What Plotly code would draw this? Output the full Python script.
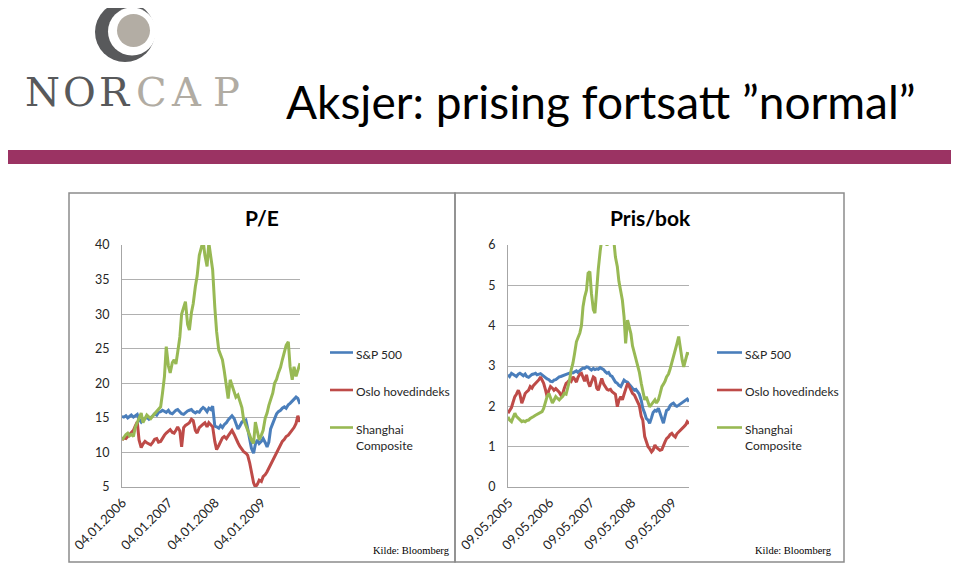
import pandas as pd
import plotly.graph_objects as go

W, H = 959, 564
PAGE_OFFSET = 8  # body margin of the html page

SERIES = ["S&P 500", "Oslo hovedindeks", "Shanghai<br>Composite"]
COLORS = ["#4a7ebb", "#be4b48", "#98b954"]

# P/E, semi-monthly from Jan 2006
PE_DATES = pd.date_range("2006-01-01", periods=93, freq="SMS")
PE_TICKS = ["2006-01-04", "2007-01-04", "2008-01-04", "2009-01-04"]
PE_TICKTEXT = ["04.01.2006", "04.01.2007", "04.01.2008", "04.01.2009"]

PE_SP = [15.2, 15.1, 15.3, 15.0, 15.2, 15.4, 15.1, 15.3, 15.5, 14.8,
         14.4, 14.7, 14.9, 15.1, 14.8, 15.0, 15.3, 15.6, 15.4, 15.8,
         15.9, 16.1, 16.0, 15.8, 16.1, 15.7, 15.6, 15.9, 16.1, 16.2,
         15.8, 15.6, 15.5, 15.8, 16.0, 16.1, 16.2, 15.9, 15.7, 15.9,
         15.8, 16.2, 16.5, 16.3, 15.9, 16.4, 16.2, 16.7, 13.8, 13.7,
         13.5, 13.9, 13.6, 14.0, 14.3, 14.7, 15.0, 15.3, 14.9, 14.2,
         13.4, 13.8, 14.4, 14.6, 14.7, 13.5, 11.8, 10.6, 9.9, 11.2,
         11.8, 11.3, 11.6, 12.0, 11.4, 10.8, 11.5, 13.4, 14.2, 15.0,
         15.6, 15.9, 16.1, 16.4, 16.6, 16.4, 16.9, 17.1, 17.4, 17.6,
         18.0, 17.8, 17.0]
PE_OSLO = [11.8, 12.1, 12.0, 12.3, 12.6, 12.9, 13.2, 13.8, 14.4, 11.8,
           10.7, 11.2, 11.6, 11.4, 11.2, 11.1, 11.5, 11.9, 12.0, 11.5,
           11.6, 12.1, 12.5, 12.8, 13.1, 13.3, 12.9, 12.8, 13.2, 13.7,
           13.1, 10.8, 13.6, 13.9, 14.1, 14.3, 14.8, 14.6, 13.2, 12.8,
           13.6, 13.9, 14.1, 14.3, 13.7, 14.3, 14.0, 13.7, 11.6, 10.4,
           11.0, 11.5, 12.1, 12.3, 12.0, 12.4, 12.8, 13.2, 12.6, 11.9,
           11.4, 10.9, 10.4, 10.1, 9.9, 9.6, 8.5, 7.2, 5.6, 5.0,
           5.4, 6.0, 5.8, 6.5, 6.8, 7.2, 7.7, 8.1, 8.8, 9.4,
           9.9, 10.4, 10.9, 11.6, 11.9, 12.3, 12.5, 12.8, 13.2, 13.6,
           14.2, 15.3, 14.4]
PE_SHANGHAI = [11.8, 12.2, 12.6, 12.8, 12.4, 12.6, 12.3, 13.6, 14.4, 15.0,
               15.7, 14.3, 14.9, 15.4, 15.1, 14.9, 15.3, 15.6, 15.9, 16.1,
               16.6, 18.5, 21.0, 25.3, 22.5, 21.5, 23.0, 23.4, 22.8, 24.5,
               26.7, 30.0, 31.2, 31.8, 28.5, 27.7, 30.2, 31.5, 34.0, 35.5,
               38.5, 39.5, 40.6, 38.5, 36.9, 40.3, 38.0, 36.4, 31.0, 27.5,
               24.8, 24.0, 23.4, 21.8, 19.5, 17.8, 20.5, 19.8, 19.0, 18.0,
               18.3, 17.6, 16.5, 14.7, 14.0, 13.2, 12.5, 11.8, 11.3, 14.4,
               12.8, 11.8, 12.5, 13.2, 15.0, 15.7, 16.8, 17.6, 18.6, 20.0,
               20.6, 21.5, 22.3, 23.4, 24.4, 25.5, 26.0, 22.4, 20.5, 22.4,
               21.0, 22.0, 22.9]

# Pris/bok, semi-monthly from May 2005
PB_DATES = pd.date_range("2005-05-01", periods=107, freq="SMS")
PB_TICKS = ["2005-05-09", "2006-05-09", "2007-05-09", "2008-05-09", "2009-05-09"]
PB_TICKTEXT = ["09.05.2005", "09.05.2006", "09.05.2007", "09.05.2008", "09.05.2009"]

PB_SP = [2.78, 2.74, 2.82, 2.80, 2.76, 2.74, 2.80, 2.82, 2.79, 2.76,
         2.80, 2.74, 2.72, 2.76, 2.79, 2.80, 2.82, 2.78, 2.80, 2.81,
         2.78, 2.75, 2.70, 2.68, 2.66, 2.62, 2.61, 2.65, 2.66, 2.70,
         2.73, 2.74, 2.76, 2.78, 2.79, 2.80, 2.82, 2.84, 2.83, 2.86,
         2.88, 2.84, 2.90, 2.92, 2.95, 2.94, 2.98, 2.97, 2.93, 2.90,
         2.94, 2.91, 2.93, 2.92, 2.96, 2.94, 2.91, 2.86, 2.82, 2.84,
         2.76, 2.74, 2.68, 2.60, 2.57, 2.52, 2.49, 2.58, 2.65, 2.62,
         2.60, 2.55, 2.48, 2.45, 2.40, 2.42, 2.36, 2.30, 2.15, 1.95,
         1.83, 1.70, 1.66, 1.58, 1.72, 1.85, 1.90, 1.88, 1.95, 1.85,
         1.70, 1.58, 1.75, 1.90, 1.93, 2.02, 2.06, 2.08, 2.02, 2.00,
         2.03, 2.06, 2.10, 2.12, 2.16, 2.18, 2.12]
PB_OSLO = [1.83, 1.90, 1.97, 2.10, 2.24, 2.30, 2.40, 2.30, 2.08, 2.18,
           2.32, 2.36, 2.40, 2.49, 2.45, 2.52, 2.57, 2.60, 2.66, 2.73,
           2.65, 2.57, 2.40, 2.24, 2.40, 2.49, 2.45, 2.40, 2.44, 2.40,
           2.35, 2.28, 2.32, 2.45, 2.57, 2.60, 2.65, 2.62, 2.73, 2.68,
           2.60, 2.72, 2.80, 2.82, 2.70, 2.62, 2.78, 2.60, 2.49, 2.62,
           2.73, 2.70, 2.45, 2.40, 2.60, 2.69, 2.55, 2.48, 2.42, 2.40,
           2.42, 2.36, 2.32, 2.30, 1.99, 2.15, 2.24, 2.16, 2.30, 2.45,
           2.57, 2.50, 2.40, 2.32, 2.28, 2.20, 2.08, 2.02, 1.75, 1.66,
           1.25, 1.10, 1.00, 0.95, 0.87, 0.92, 1.04, 0.98, 0.95, 0.91,
           0.93, 1.04, 1.12, 1.20, 1.24, 1.30, 1.33, 1.28, 1.24, 1.32,
           1.37, 1.42, 1.45, 1.49, 1.54, 1.62, 1.57]
PB_SHANGHAI = [1.74, 1.66, 1.62, 1.72, 1.83, 1.75, 1.70, 1.66, 1.62, 1.64,
               1.62, 1.65, 1.66, 1.70, 1.72, 1.75, 1.78, 1.80, 1.82, 1.85,
               1.87, 1.95, 2.16, 2.25, 2.32, 2.20, 2.08, 2.15, 2.24, 2.20,
               2.16, 2.20, 2.25, 2.32, 2.30, 2.45, 2.65, 2.90, 3.07, 3.30,
               3.60, 3.70, 3.82, 4.00, 4.47, 4.70, 4.88, 5.30, 5.34, 4.80,
               4.40, 4.31, 5.00, 5.40, 5.85, 6.20, 6.50, 6.30, 5.98, 6.20,
               6.60, 6.40, 6.10, 5.70, 5.46, 5.10, 4.88, 4.63, 4.22, 3.56,
               4.14, 3.95, 3.80, 3.50, 3.31, 3.15, 3.00, 2.85, 2.57, 2.40,
               2.16, 2.24, 2.10, 1.99, 2.05, 2.10, 2.16, 2.08, 2.16, 2.30,
               2.49, 2.55, 2.62, 2.73, 2.80, 2.92, 3.07, 3.25, 3.40, 3.55,
               3.73, 3.40, 3.15, 2.98, 3.20, 3.31, 3.30]


def px(x):
    return (x - PAGE_OFFSET) / W


def py(y):
    return 1 - (y - PAGE_OFFSET) / H


FONT = "Lato, 'Open Sans', sans-serif"
fig = go.Figure()

for vals, c in zip([PE_SP, PE_OSLO, PE_SHANGHAI], COLORS):
    fig.add_trace(go.Scatter(x=PE_DATES, y=vals, mode="lines", xaxis="x", yaxis="y",
                             line=dict(color=c, width=3), showlegend=False))
for vals, c in zip([PB_SP, PB_OSLO, PB_SHANGHAI], COLORS):
    fig.add_trace(go.Scatter(x=PB_DATES, y=vals, mode="lines", xaxis="x2", yaxis="y2",
                             line=dict(color=c, width=3), showlegend=False))

xcommon = dict(type="date", showgrid=False, showline=True, linecolor="#a6a6a6",
               linewidth=1, ticks="", tickangle=-45, zeroline=False, automargin=False,
               ticklabelstandoff=2,
               tickfont=dict(family=FONT, size=13, color="#262626"))
ycommon = dict(showgrid=True, gridcolor="#b0b0b0", gridwidth=1, showline=True,
               linecolor="#a6a6a6", linewidth=1, ticks="", zeroline=False, automargin=False,
               ticklabelstandoff=9,
               tickfont=dict(family=FONT, size=12.5, color="#262626"))

fig.update_layout(
    width=W, height=H, margin=dict(l=0, r=0, t=0, b=0),
    paper_bgcolor="white", plot_bgcolor="white",
    xaxis=dict(xcommon, domain=[px(122), px(300)], anchor="y",
               range=[PE_DATES[0], PE_DATES[-1]], tickvals=PE_TICKS, ticktext=PE_TICKTEXT),
    yaxis=dict(ycommon, domain=[py(487), py(245)], anchor="x", range=[5, 40], dtick=5),
    xaxis2=dict(xcommon, domain=[px(508), px(689)], anchor="y2",
                range=[PB_DATES[0], PB_DATES[-1]], tickvals=PB_TICKS, ticktext=PB_TICKTEXT),
    yaxis2=dict(ycommon, domain=[py(487), py(245)], anchor="x2", range=[0, 6], dtick=1),
)

shapes = []
# purple band
shapes.append(dict(type="rect", xref="paper", yref="paper", x0=px(0), x1=px(955),
                   y0=py(164), y1=py(150), fillcolor="#9b3363", line_width=0, layer="below"))
# chart panels
for x0, x1 in [(69, 455), (455, 844)]:
    shapes.append(dict(type="rect", xref="paper", yref="paper", x0=px(x0), x1=px(x1),
                       y0=py(562), y1=py(193), line=dict(color="#8c8c8c", width=1.5),
                       fillcolor="rgba(0,0,0,0)", layer="below"))
# logo crescent and disc
def circ(cx, cy, r, color):
    return dict(type="circle", xref="paper", yref="paper", x0=px(cx - r), x1=px(cx + r),
                y0=py(cy + r), y1=py(cy - r), fillcolor=color, line_width=0, layer="above")
shapes.append(circ(125, 32, 30, "#58595b"))
shapes.append(circ(132, 31.5, 24, "white"))
shapes.append(circ(133.5, 30.5, 16.5, "#b3ada4"))

annotations = []
# legends
for lx0, lx1 in [(330, 353), (717, 742)]:
    for name, c, ly in zip(SERIES, COLORS, [352.5, 390, 427.5]):
        shapes.append(dict(type="line", xref="paper", yref="paper", x0=px(lx0), x1=px(lx1),
                           y0=py(ly), y1=py(ly), line=dict(color=c, width=2.6)))
        annotations.append(dict(text=name, x=px(lx1 + 1), y=py(ly - 8), xref="paper", yref="paper",
                                xanchor="left", yanchor="top", showarrow=False, align="left",
                                font=dict(family=FONT, size=12, color="#262626")))

# NORCAP letters
for ch, cx, col in zip("NORCAP", [42, 79, 115, 151, 186, 226],
                       ["#58595b"] * 3 + ["#b1aca3"] * 3):
    annotations.append(dict(text=ch, x=px(cx), y=py(92), xref="paper", yref="paper",
                            xanchor="center", yanchor="middle", showarrow=False,
                            font=dict(family="DejaVu Serif, serif", size=40, color=col)))

annotations += [
    dict(text="Aksjer: prising fortsatt \u201dnormal\u201d", x=px(284), y=py(102),
         xanchor="left", yanchor="middle", font=dict(family=FONT, size=46, color="black")),
    dict(text="<b>P/E</b>", x=px(262), y=py(217), xanchor="center", yanchor="middle",
         font=dict(family=FONT, size=21, color="black")),
    dict(text="<b>Pris/bok</b>", x=px(650), y=py(217), xanchor="center", yanchor="middle",
         font=dict(family=FONT, size=21, color="black")),
    dict(text="Kilde: Bloomberg", x=px(452), y=py(550), xanchor="right", yanchor="middle",
         font=dict(family="Liberation Serif, serif", size=10.5, color="black")),
    dict(text="Kilde: Bloomberg", x=px(834), y=py(550), xanchor="right", yanchor="middle",
         font=dict(family="Liberation Serif, serif", size=10.5, color="black")),
]
for a in annotations:
    a.setdefault("xref", "paper")
    a.setdefault("yref", "paper")
    a.setdefault("showarrow", False)

fig.update_layout(shapes=shapes, annotations=annotations)
fig.write_html("out.html")
